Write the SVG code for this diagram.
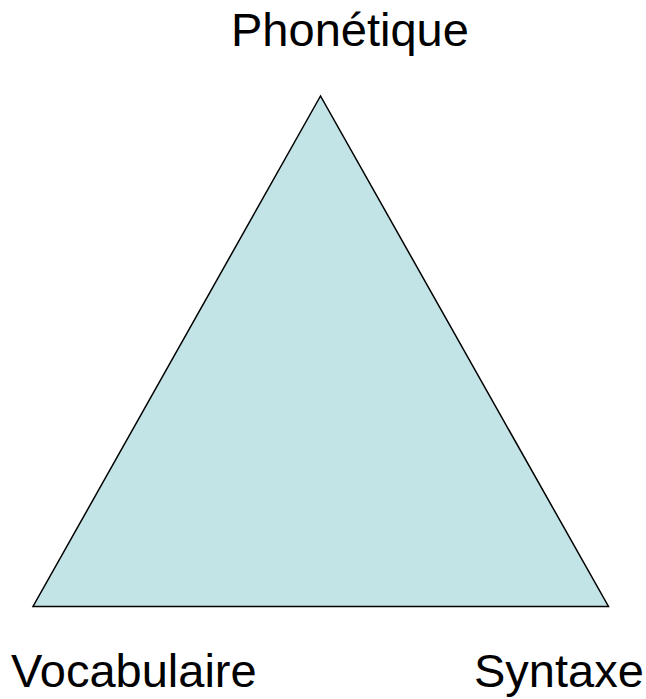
<svg xmlns="http://www.w3.org/2000/svg" width="646" height="699" viewBox="0 0 646 699">
<style>
text{font-family:"Liberation Sans",Arial,sans-serif;font-size:47px;fill:#000}
</style>
<rect width="646" height="699" fill="#fff"/>
<g id="triangle">
<polygon points="320.5,96 33,606.5 608.5,606.5" fill="#C3E4E7" stroke="#000" stroke-width="1.5" stroke-linejoin="miter"/>
</g>
<g id="phonetique"><text x="231" y="46">Phonétique</text></g>
<g id="vocabulaire"><text x="11" y="687">Vocabulaire</text></g>
<g id="syntaxe"><text x="474" y="687">Syntaxe</text></g>
</svg>
